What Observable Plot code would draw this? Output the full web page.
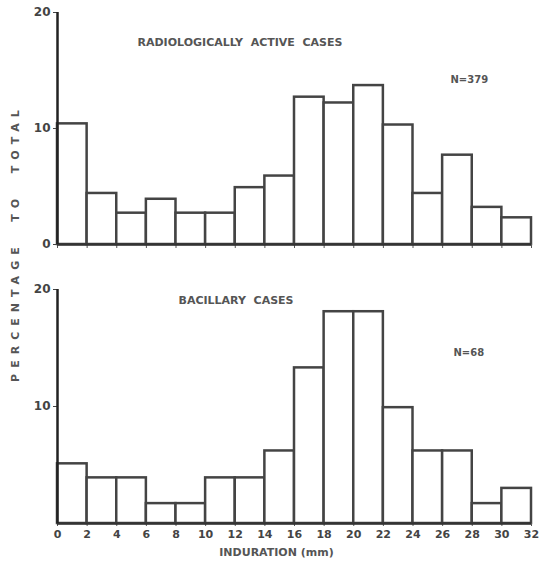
<!DOCTYPE html>
<html>
<head>
<meta charset="utf-8">
<script src="https://cdn.jsdelivr.net/npm/d3@7"></script>
<script src="https://cdn.jsdelivr.net/npm/@observablehq/plot@0.6"></script>
<style>
  html, body { margin: 0; padding: 0; background: #fff; }
  #wrap { position: relative; width: 539px; height: 569px; font-family: "DejaVu Sans", sans-serif; }
  .panel { position: absolute; left: 0; }
  #ylab { position: absolute; left: 15px; top: 243px; transform: translate(-50%, -50%) rotate(-90deg);
          white-space: nowrap; font-size: 11px; font-weight: bold; color: #555; letter-spacing: 6px; }
</style>
</head>
<body>
<div id="wrap">
  <div id="p1" class="panel" style="top:0px"></div>
  <div id="p2" class="panel" style="top:270px"></div>
  <div id="ylab">PERCENTAGE&nbsp;&nbsp;TO&nbsp;&nbsp;TOTAL</div>
</div>
<script>
// Induration bins (mm), lower edges; each bin is 2 mm wide
const binStart = [0, 2, 4, 6, 8, 10, 12, 14, 16, 18, 20, 22, 24, 26, 28, 30];
const binWidth = 2;
// Percentage of total, radiologically active cases (N=379)
const activePct = [10.4, 4.4, 2.7, 3.9, 2.7, 2.7, 4.9, 5.9, 12.7, 12.2, 13.7, 10.3, 4.4, 7.7, 3.2, 2.3];
// Percentage of total, bacillary cases (N=68)
const bacillaryPct = [5.1, 3.9, 3.9, 1.7, 1.7, 3.9, 3.9, 6.2, 13.3, 18.1, 18.1, 9.9, 6.2, 6.2, 1.7, 3.0];
const xTicks = [0, 2, 4, 6, 8, 10, 12, 14, 16, 18, 20, 22, 24, 26, 28, 30, 32];
const topYTicks = [0, 10, 20];
const botYTicks = [10, 20];
const titles = ["RADIOLOGICALLY  ACTIVE  CASES", "BACILLARY  CASES"];
const nLabels = ["N=379", "N=68"];
const xLabel = "INDURATION (mm)";

function rows(vals) {
  return binStart.map((s, i) => ({x1: s, x2: s + binWidth, y: vals[i]}));
}

const textStyle = {fill: "#555", fontWeight: "bold", fontFamily: "DejaVu Sans, sans-serif"};

// Top panel
const plot1 = Plot.plot({
  width: 539, height: 262,
  marginTop: 12, marginBottom: 18, marginLeft: 57, marginRight: 8,
  style: {fontFamily: "DejaVu Sans, sans-serif", fontSize: "11px", color: "#444", background: "transparent"},
  x: {domain: [0, 32]},
  y: {domain: [0, 20]},
  marks: [
    Plot.rectY(rows(activePct), {x1: "x1", x2: "x2", y: "y", fill: "white", stroke: "#444", strokeWidth: 2.5}),
    Plot.axisX({ticks: xTicks, tickFormat: () => "", tickSize: 4, stroke: "#555", label: null}),
    Plot.axisY({ticks: topYTicks, tickSize: 4, tickPadding: 3, fontWeight: "bold", fontSize: 12, fill: "#444", stroke: "#444", label: null}),
    Plot.ruleY([0], {stroke: "#333", strokeWidth: 2.5}),
    Plot.ruleX([0], {stroke: "#222", strokeWidth: 2.5}),
    Plot.text([titles[0]], {frameAnchor: "top-left", dx: 80, dy: 26, text: d => d, textAnchor: "start", fontSize: 11, ...textStyle}),
    Plot.text([nLabels[0]], {frameAnchor: "top-left", dx: 393, dy: 63, text: d => d, textAnchor: "start", fontSize: 10, ...textStyle})
  ]
});
document.getElementById("p1").appendChild(plot1);

// Bottom panel
const plot2 = Plot.plot({
  width: 539, height: 299,
  marginTop: 19, marginBottom: 46, marginLeft: 57, marginRight: 8,
  style: {fontFamily: "DejaVu Sans, sans-serif", fontSize: "11px", color: "#444", background: "transparent"},
  x: {domain: [0, 32]},
  y: {domain: [0, 20]},
  marks: [
    Plot.rectY(rows(bacillaryPct), {x1: "x1", x2: "x2", y: "y", fill: "white", stroke: "#444", strokeWidth: 2.5}),
    Plot.axisX({ticks: xTicks, tickSize: 3, tickPadding: 4, fontWeight: "bold", fontSize: 11, fill: "#444", stroke: "#555", label: null}),
    Plot.axisY({ticks: botYTicks, tickSize: 4, tickPadding: 3, fontWeight: "bold", fontSize: 12, fill: "#444", stroke: "#444", label: null}),
    Plot.ruleY([0], {stroke: "#333", strokeWidth: 2.5}),
    Plot.ruleX([0], {stroke: "#222", strokeWidth: 2.5}),
    Plot.text([titles[1]], {frameAnchor: "top-left", dx: 121, dy: 7, text: d => d, textAnchor: "start", fontSize: 11, ...textStyle}),
    Plot.text([nLabels[1]], {frameAnchor: "top-left", dx: 396, dy: 59, text: d => d, textAnchor: "start", fontSize: 10, ...textStyle}),
    Plot.text([xLabel], {frameAnchor: "bottom", dx: -18, dy: 32, text: d => d, fontSize: 11, ...textStyle, letterSpacing: "2px"})
  ]
});
document.getElementById("p2").appendChild(plot2);
</script>
</body>
</html>
